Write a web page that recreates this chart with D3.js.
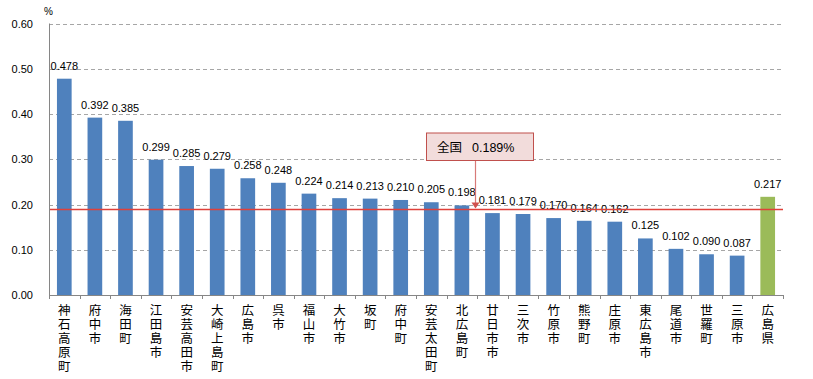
<!DOCTYPE html>
<html><head><meta charset="utf-8">
<script src="https://cdn.jsdelivr.net/npm/d3@7"></script>
<style>
body{margin:0;background:#fff;}
svg{display:block;}
</style></head>
<body>
<svg id="c" width="813" height="379"></svg>
<script>
const categories = ["神石高原町","府中市","海田町","江田島市","安芸高田市","大崎上島町","広島市","呉市","福山市","大竹市","坂町","府中町","安芸太田町","北広島町","廿日市市","三次市","竹原市","熊野町","庄原市","東広島市","尾道市","世羅町","三原市","広島県"];
const values = [0.478,0.392,0.385,0.299,0.285,0.279,0.258,0.248,0.224,0.214,0.213,0.210,0.205,0.198,0.181,0.179,0.170,0.164,0.162,0.125,0.102,0.090,0.087,0.217];
const highlight = ["広島県"];
const yTicks = [0.00,0.10,0.20,0.30,0.40,0.50,0.60];
const nationalValue = 0.189;
const nationalLabel = "全国";
const unitLabel = "%";

(function(){
const svg = d3.select("#c");
const pL = 49, pR = 783, pT = 23.5, pB = 295;
const numFont = "'Liberation Sans', Arial, sans-serif";
const cjkFont = "'Noto Sans CJK JP', sans-serif";

const x = d3.scaleBand().domain(categories).range([pL, pR]).paddingInner(0.52).paddingOuter(0.26);
const y = d3.scaleLinear().domain([0, 0.6]).range([pB, pT]);

// gridlines
svg.append("g").selectAll("line").data(yTicks.filter(d => d > 0)).join("line")
  .attr("x1", pL).attr("x2", pR)
  .attr("y1", d => Math.round(y(d)) + 0.5).attr("y2", d => Math.round(y(d)) + 0.5)
  .attr("stroke", "#a6a6a6").attr("stroke-width", 1).attr("stroke-dasharray", "4,3");

// y labels
svg.append("g").selectAll("text").data(yTicks).join("text")
  .attr("x", 33).attr("y", d => y(d) + 4)
  .attr("text-anchor", "end").attr("font-family", numFont).attr("font-size", 11).attr("fill", "#000")
  .text(d => d3.format(".2f")(d));

svg.append("text").attr("x", 44).attr("y", 15).attr("font-family", numFont).attr("font-size", 10).text(unitLabel);

// bars
svg.append("g").selectAll("rect").data(values).join("rect")
  .attr("x", (d, i) => x(categories[i]))
  .attr("width", x.bandwidth())
  .attr("y", d => y(d))
  .attr("height", d => pB - y(d))
  .attr("fill", (d, i) => highlight.includes(categories[i]) ? "#9bbb59" : "#4f81bd");

// value labels
svg.append("g").selectAll("text").data(values).join("text")
  .attr("x", (d, i) => x(categories[i]) + x.bandwidth() / 2)
  .attr("y", d => y(d) - 9)
  .attr("text-anchor", "middle").attr("font-family", numFont).attr("font-size", 11).attr("fill", "#000")
  .text(d => d3.format(".3f")(d));

// national line
const ny = Math.round(y(nationalValue)) + 0.5;
svg.append("line").attr("x1", pL).attr("x2", pR).attr("y1", ny).attr("y2", ny)
  .attr("stroke", "#e0403a").attr("stroke-width", 1.3);

// axes
svg.append("line").attr("x1", pL + 0.5).attr("x2", pL + 0.5).attr("y1", pT).attr("y2", pB)
  .attr("stroke", "#868686");
svg.append("line").attr("x1", pL).attr("x2", pR).attr("y1", pB + 0.5).attr("y2", pB + 0.5)
  .attr("stroke", "#868686");
svg.append("g").selectAll("line").data(d3.range(categories.length + 1)).join("line")
  .attr("x1", i => Math.round(pL + i * x.step()) + 0.5)
  .attr("x2", i => Math.round(pL + i * x.step()) + 0.5)
  .attr("y1", pB).attr("y2", pB + 4)
  .attr("stroke", "#868686");

// category labels (vertical)
svg.append("g").selectAll("text").data(categories).join("text")
  .attr("x", c => x(c) + x.bandwidth() / 2)
  .attr("y", 304)
  .style("writing-mode", "vertical-rl")
  .style("text-orientation", "upright")
  .attr("letter-spacing", 1.5)
  .attr("font-family", cjkFont).attr("font-size", 12.5).attr("fill", "#000")
  .text(c => c);

// annotation
const bx = 426, by = 132.5, bw = 107, bh = 27.5;
const ax = 475.5;
svg.append("line").attr("x1", ax).attr("x2", ax).attr("y1", by + bh).attr("y2", ny - 6)
  .attr("stroke", "#d87a78").attr("stroke-width", 1.2);
svg.append("path").attr("d", `M${ax - 4},${ny - 7} L${ax + 4},${ny - 7} L${ax},${ny - 1} Z`).attr("fill", "#d0504d");
svg.append("rect").attr("x", bx + 0.5).attr("y", by + 0.5).attr("width", bw).attr("height", bh)
  .attr("fill", "#f2dcdb").attr("stroke", "#c0504d").attr("stroke-width", 1);
const t = svg.append("text").attr("x", 437).attr("y", by + 19).attr("font-size", 12.5).attr("fill", "#000");
t.append("tspan").attr("font-family", cjkFont).text(nationalLabel);
t.append("tspan").attr("font-family", numFont).attr("dx", 10).text(d3.format(".3f")(nationalValue) + "%");
})();
</script>
</body></html>
